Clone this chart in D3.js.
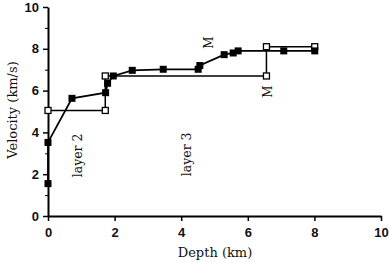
<!DOCTYPE html>
<html><head><meta charset="utf-8">
<script src="https://cdn.jsdelivr.net/npm/d3@7"></script>
<style>body{margin:0;background:#fff}svg{display:block}</style>
</head><body>
<svg id="c" width="389" height="263"></svg>
<script>
const filledDepth = [0, 0, 0.72, 1.73, 1.79, 1.96, 2.53, 3.46, 4.51, 4.56, 5.29, 5.56, 5.71, 7.08, 8.01];
const filledVel   = [1.55, 3.52, 5.63, 5.9, 6.35, 6.7, 6.97, 7.02, 7.02, 7.2, 7.72, 7.8, 7.9, 7.9, 7.9];
const openDepth = [0, 1.72, 1.72, 6.56, 6.56, 8.01];
const openVel   = [5.05, 5.05, 6.7, 6.7, 8.1, 8.1];
const xTicks = [0, 2, 4, 6, 8, 10];
const yTicks = [0, 2, 4, 6, 8, 10];
const yMinor = [1, 3, 5, 7, 9];
const labels = [
  {text: "layer 2", d: 0.9, v: 2.9, size: 12.5},
  {text: "layer 3", d: 4.17, v: 2.95, size: 12.5},
  {text: "M", d: 4.83, v: 8.3, size: 12},
  {text: "M", d: 6.6, v: 5.95, size: 12}
];

const svg = d3.select("#c");
const x = d3.scaleLinear().domain([0, 10]).range([48, 381]);
const y = d3.scaleLinear().domain([0, 10]).range([216, 7]);

const sans = "Liberation Sans, Arial, sans-serif";
const serif = "DejaVu Serif, serif";

const gx = svg.append("g").attr("transform", "translate(0,216)")
  .call(d3.axisBottom(x).tickValues(xTicks).tickSize(5).tickSizeOuter(0).tickFormat(d3.format("d")));
const gy = svg.append("g").attr("transform", "translate(48,0)")
  .call(d3.axisLeft(y).tickValues(yTicks).tickSize(5).tickSizeOuter(0).tickFormat(d3.format("d")));
svg.append("g").attr("transform", "translate(48,0)")
  .call(d3.axisLeft(y).tickValues(yMinor).tickSize(3).tickFormat(""))
  .select(".domain").remove();
[gx, gy].forEach(g => {
  g.select(".domain").attr("stroke-width", 2);
  g.selectAll(".tick line").attr("stroke-width", 1.5);
  g.selectAll("text").attr("font-family", sans).attr("font-size", 13).attr("font-weight", "bold").attr("fill", "#111");
});
gx.selectAll("text").attr("dy", "1.0em");
gy.selectAll("text").attr("dx", "-1px");
svg.selectAll("g .tick line").attr("stroke", "#000");

const line = d3.line().x(d => x(d[0])).y(d => y(d[1]));
const openPts = openDepth.map((d, i) => [d, openVel[i]]);
const filledPts = filledDepth.map((d, i) => [d, filledVel[i]]);

svg.append("path").datum(openPts).attr("d", line).attr("fill", "none").attr("stroke", "#000").attr("stroke-width", 1.5);
svg.append("path").datum(filledPts).attr("d", line).attr("fill", "none").attr("stroke", "#000").attr("stroke-width", 1.8);

const s = 6;
svg.selectAll(".op").data(openPts).enter().append("rect")
  .attr("x", d => x(d[0]) - s/2).attr("y", d => y(d[1]) - s/2)
  .attr("width", s).attr("height", s).attr("fill", "#fff").attr("stroke", "#000").attr("stroke-width", 1.3);
svg.selectAll(".fp").data(filledPts).enter().append("rect")
  .attr("x", d => x(d[0]) - 3.5).attr("y", d => y(d[1]) - 3.5)
  .attr("width", 7).attr("height", 7).attr("fill", "#000");

labels.forEach(l => {
  svg.append("text").attr("transform", `translate(${x(l.d)},${y(l.v)}) rotate(-90)`)
    .attr("text-anchor", "middle").attr("dy", "0.35em")
    .attr("font-family", serif).attr("font-size", l.size).attr("fill", "#111").text(l.text);
});

svg.append("text").attr("x", 215).attr("y", 257).attr("text-anchor", "middle")
  .attr("font-family", serif).attr("font-size", 13).attr("fill", "#111").text("Depth (km)");
svg.append("text").attr("transform", "translate(12,110) rotate(-90)").attr("text-anchor", "middle")
  .attr("dy", "0.35em").attr("font-family", serif).attr("font-size", 13).attr("fill", "#111").text("Velocity (km/s)");
</script>
</body></html>
